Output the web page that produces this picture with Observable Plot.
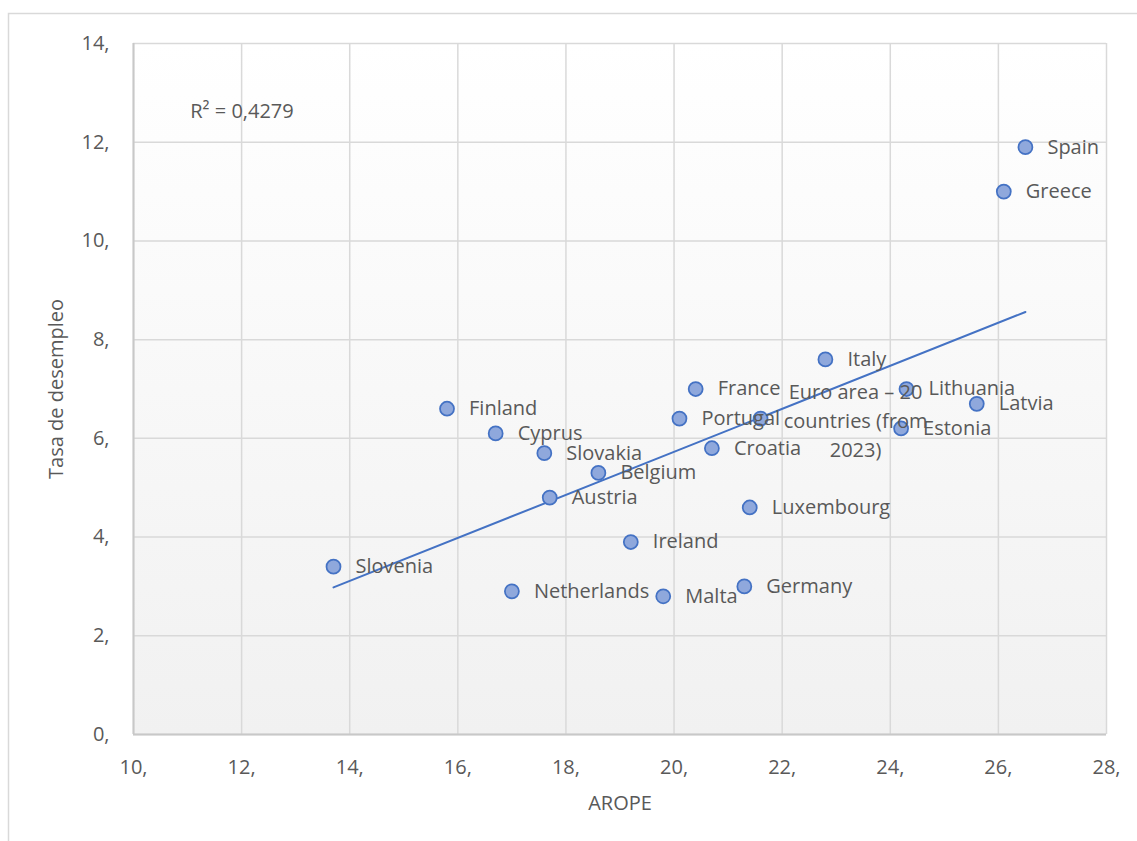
<!DOCTYPE html>
<html>
<head>
<meta charset="utf-8">
<script src="https://cdn.jsdelivr.net/npm/d3@7"></script>
<script src="https://cdn.jsdelivr.net/npm/@observablehq/plot@0.6"></script>
<style>
  html, body { margin: 0; padding: 0; background: #ffffff; }
</style>
</head>
<body>
<div id="chart"></div>
<script>
// ---- Data ----
const countries = [
  "Spain", "Greece", "Italy", "France", "Euro area – 20\ncountries (from\n2023)",
  "Lithuania", "Latvia", "Estonia", "Portugal", "Croatia",
  "Finland", "Cyprus", "Slovakia", "Belgium", "Austria",
  "Luxembourg", "Ireland", "Slovenia", "Netherlands", "Malta", "Germany"
];
const arope = [
  26.5, 26.1, 22.8, 20.4, 21.6,
  24.3, 25.6, 24.2, 20.1, 20.7,
  15.8, 16.7, 17.6, 18.6, 17.7,
  21.4, 19.2, 13.7, 17.0, 19.8, 21.3
];
const unemployment = [
  11.9, 11.0, 7.6, 7.0, 6.4,
  7.0, 6.7, 6.2, 6.4, 5.8,
  6.6, 6.1, 5.7, 5.3, 4.8,
  4.6, 3.9, 3.4, 2.9, 2.8, 3.0
];
const xTicks = [10, 12, 14, 16, 18, 20, 22, 24, 26, 28];
const yTicks = [0, 2, 4, 6, 8, 10, 12, 14];
const xTitle = "AROPE";
const yTitle = "Tasa de desempleo";
const annotationText = ["R² = 0,4279"];
const annotationX = [11.05];
const annotationY = [12.62];

// ---- Build table ----
const rows = countries.map((c, i) => ({country: c, arope: arope[i], rate: unemployment[i]}));
const singleLine = rows.filter(d => !d.country.includes("\n"));
const multiLine = rows.filter(d => d.country.includes("\n"));
const annotations = annotationText.map((t, i) => ({text: t, x: annotationX[i], y: annotationY[i]}));

const textColor = "#595959";
const fmt = d => d + ",";

const chart = Plot.plot({
  width: 1137,
  height: 841,
  marginLeft: 133,
  marginRight: 31,
  marginTop: 43,
  marginBottom: 107,
  style: {
    fontFamily: "'Open Sans', sans-serif",
    fontSize: "20px",
    color: textColor,
    background: "#ffffff",
    overflow: "visible"
  },
  x: {domain: [10, 28]},
  y: {domain: [0, 14]},
  marks: [
    Plot.frame({fill: "url(#plotBg)", stroke: null}),
    Plot.gridX(xTicks, {stroke: "#d9d9d9", strokeOpacity: 1, strokeWidth: 1.5}),
    Plot.gridY(yTicks, {stroke: "#d9d9d9", strokeOpacity: 1, strokeWidth: 1.5}),
    Plot.ruleX([10], {stroke: "#c8c8c8", strokeWidth: 2}),
    Plot.ruleY([0], {stroke: "#c8c8c8", strokeWidth: 2}),
    Plot.axisX({
      ticks: xTicks, tickFormat: fmt, tickSize: 0, tickPadding: 25,
      fontSize: 20, fill: textColor,
      label: xTitle, labelAnchor: "center", labelOffset: 75, labelArrow: "none"
    }),
    Plot.axisY({
      ticks: yTicks, tickFormat: fmt, tickSize: 0, tickPadding: 24,
      fontSize: 20, fill: textColor,
      label: yTitle, labelAnchor: "center", labelOffset: 85, labelArrow: "none"
    }),
    Plot.linearRegressionY(rows, {x: "arope", y: "rate", ci: 0, stroke: "#4472C4", strokeWidth: 2}),
    Plot.dot(rows, {x: "arope", y: "rate", r: 7, fill: "#8FA8DC", stroke: "#4472C4", strokeWidth: 1.75}),
    Plot.text(singleLine, {
      x: "arope", y: "rate", text: "country", textAnchor: "start", dx: 22,
      fill: textColor, fontSize: 20
    }),
    Plot.text(multiLine, {
      x: "arope", y: "rate", text: "country", textAnchor: "middle", dx: 95,
      lineHeight: 1.45, fill: textColor, fontSize: 20
    }),
    Plot.text(annotations, {
      x: "x", y: "y", text: "text", textAnchor: "start", fill: textColor, fontSize: 20
    })
  ]
});

// Background gradient for plot area and outer chart border
const svg = d3.select(chart);
const defs = svg.insert("defs", ":first-child");
const grad = defs.append("linearGradient")
  .attr("id", "plotBg").attr("x1", 0).attr("y1", 0).attr("x2", 0).attr("y2", 1);
grad.append("stop").attr("offset", "0%").attr("stop-color", "#ffffff");
grad.append("stop").attr("offset", "100%").attr("stop-color", "#f1f1f1");
svg.insert("rect", "defs + *")
  .attr("x", 8.5).attr("y", 13.5)
  .attr("width", 1400).attr("height", 1000)
  .attr("fill", "none").attr("stroke", "#d9d9d9").attr("stroke-width", 1.5);

document.getElementById("chart").appendChild(chart);
</script>
</body>
</html>
